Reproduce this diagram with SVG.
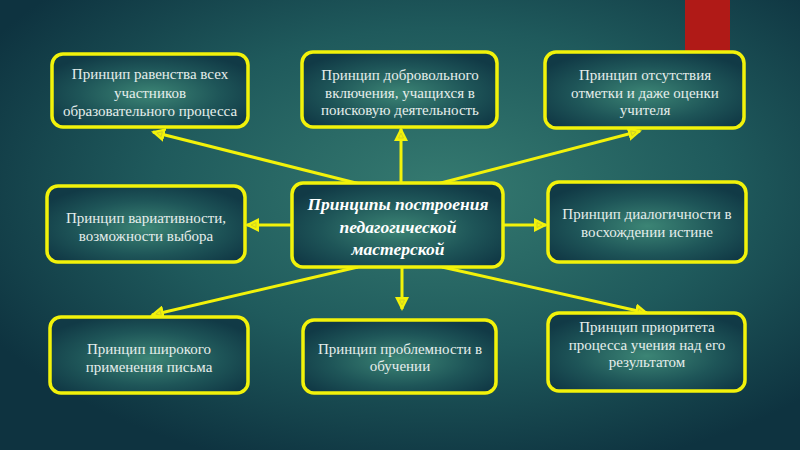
<svg xmlns="http://www.w3.org/2000/svg" width="800" height="450" viewBox="0 0 800 450">
<defs>
<radialGradient id="bg" cx="55%" cy="42%" r="65%">
<stop offset="0" stop-color="#357a70"/>
<stop offset="0.55" stop-color="#1f5a5c"/>
<stop offset="1" stop-color="#0e3340"/>
</radialGradient>
<radialGradient id="bx" cx="50%" cy="55%" r="60%">
<stop offset="0" stop-color="#3c8575"/>
<stop offset="0.6" stop-color="#1e5558"/>
<stop offset="1" stop-color="#113a46"/>
</radialGradient>
<marker id="ah" viewBox="0 0 14 14" refX="12" refY="7" markerWidth="14" markerHeight="14" markerUnits="userSpaceOnUse" orient="auto">
<path d="M0,0 L14,7 L0,14 Z" fill="#f2f20a"/>
<path d="M3,4.5 L8,7 L3,9.5 Z" fill="none" stroke="#c9c92a" stroke-width="0.8"/>
</marker>
</defs>
<style>
.box{fill:url(#bx);stroke:#f2f20a;stroke-width:3.5}
.t{font-family:"Liberation Serif","Times New Roman",serif;font-size:15px;fill:#e6eeec;text-anchor:middle}
.ct{font-family:"Liberation Serif","Times New Roman",serif;font-size:17.5px;font-weight:bold;font-style:italic;fill:#ffffff;text-anchor:middle}
.c{stroke:#f2f20a;stroke-width:3;fill:none;marker-end:url(#ah)}
</style>
<rect width="800" height="450" fill="url(#bg)"/>
<rect x="685" y="0" width="45" height="60" fill="#b01a17"/>
<g id="connectors">
<line class="c" x1="360" y1="184" x2="153" y2="132"/>
<line class="c" x1="401" y1="183" x2="401" y2="129"/>
<line class="c" x1="437" y1="184" x2="640" y2="131"/>
<line class="c" x1="292" y1="225" x2="247" y2="225"/>
<line class="c" x1="503" y1="225" x2="546" y2="225"/>
<line class="c" x1="358" y1="267" x2="152" y2="315"/>
<line class="c" x1="402" y1="267" x2="402" y2="309"/>
<line class="c" x1="442" y1="267" x2="647" y2="313"/>
</g>
<g id="n1"><rect class="box" x="52" y="54" width="196" height="73" rx="11"/>
<text class="t" x="150" y="79">Принцип равенства всех</text>
<text class="t" x="150" y="97.5">участников</text>
<text class="t" x="150" y="116">образовательного процесса</text></g>
<g id="n2"><rect class="box" x="302" y="52" width="195" height="75" rx="11"/>
<text class="t" x="400" y="80">Принцип добровольного</text>
<text class="t" x="400" y="97.5">включения, учащихся в</text>
<text class="t" x="400" y="115">поисковую деятельность</text></g>
<g id="n3"><rect class="box" x="545" y="52" width="199" height="76" rx="11"/>
<text class="t" x="645" y="80">Принцип отсутствия</text>
<text class="t" x="645" y="97.5">отметки и даже оценки</text>
<text class="t" x="645" y="115">учителя</text></g>
<g id="n4"><rect class="box" x="47" y="186" width="198" height="76" rx="11"/>
<text class="t" x="146" y="223">Принцип вариативности,</text>
<text class="t" x="146" y="241">возможности выбора</text></g>
<g id="center"><rect class="box" x="292" y="183" width="211" height="84" rx="11"/>
<text class="ct" x="398" y="210">Принципы построения</text>
<text class="ct" x="398" y="233">педагогической</text>
<text class="ct" x="398" y="255">мастерской</text></g>
<g id="n6"><rect class="box" x="548" y="182" width="198" height="80" rx="11"/>
<text class="t" x="647" y="219">Принцип диалогичности в</text>
<text class="t" x="647" y="237">восхождении истине</text></g>
<g id="n7"><rect class="box" x="50" y="317" width="198" height="76" rx="11"/>
<text class="t" x="149" y="354">Принцип широкого</text>
<text class="t" x="149" y="372">применения письма</text></g>
<g id="n8"><rect class="box" x="303" y="320" width="193" height="73" rx="11"/>
<text class="t" x="400" y="354">Принцип проблемности в</text>
<text class="t" x="400" y="371">обучении</text></g>
<g id="n9"><rect class="box" x="548" y="313" width="197" height="78" rx="11"/>
<text class="t" x="647" y="332">Принцип приоритета</text>
<text class="t" x="647" y="349.5">процесса учения над его</text>
<text class="t" x="647" y="367">результатом</text></g>
</svg>
